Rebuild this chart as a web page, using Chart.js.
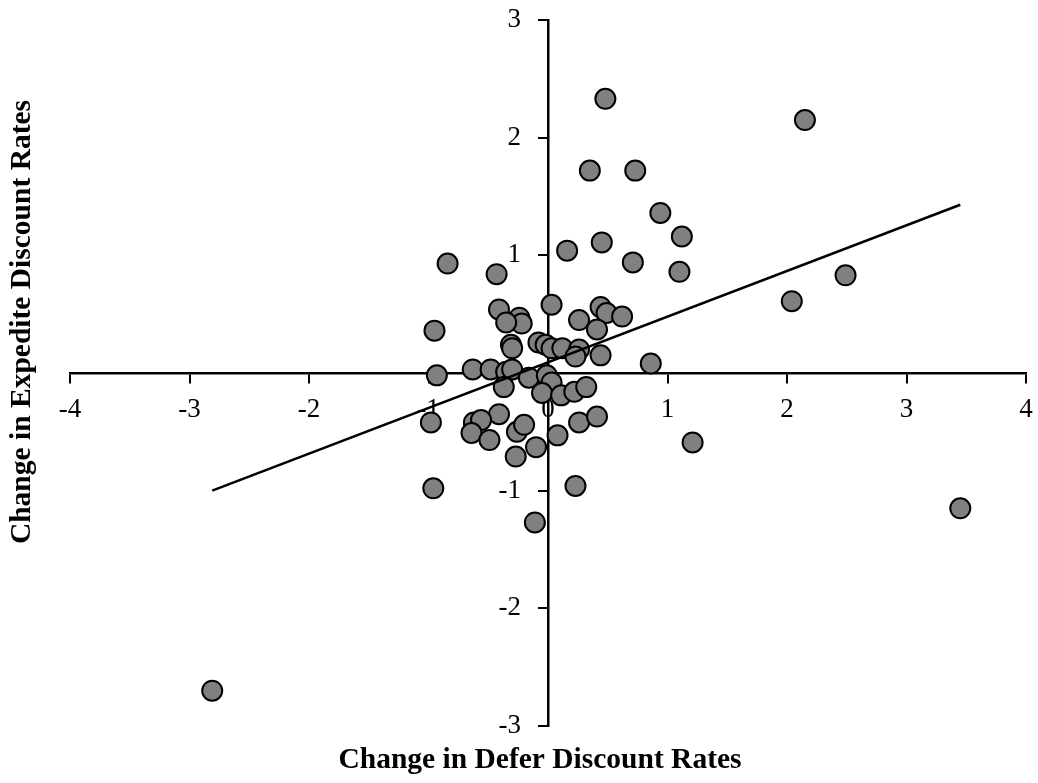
<!DOCTYPE html>
<html>
<head>
<meta charset="utf-8">
<script src="https://cdn.jsdelivr.net/npm/chart.js@4.4.1/dist/chart.umd.min.js"></script>
<style>
  html, body { margin: 0; padding: 0; background: #fff; }
  #wrap { width: 1038px; height: 783px; }
</style>
</head>
<body>
<div id="wrap"><canvas id="scatter"></canvas></div>
<script>
////////////////// Data ///////////////////////

// change in defer discount rates (x)
const deferChange = [
  -2.81, 3.45, 2.15, 2.49, 2.04, 0.48, 0.35, 0.73, 0.94, 1.12, 0.45, 1.10, 0.71,
  0.16, -0.84, -0.43, -0.95, -0.93, -0.98, -0.96, 1.21, 0.86, 0.23, -0.11, 0.03,
  -0.41, -0.24, -0.22, -0.35, -0.31, -0.30, -0.08, -0.02, 0.03, 0.12, 0.26, 0.44,
  0.49, 0.62, 0.41, 0.26, 0.23, 0.44, -0.63, -0.48, -0.35, -0.30, -0.16, -0.01,
  0.03, -0.37, -0.05, 0.11, 0.22, 0.32, -0.41, -0.62, -0.56, -0.64, -0.49, -0.26,
  -0.20, -0.10, -0.27, 0.08, 0.26, 0.41,
];

// change in expedite discount rates (y)
const expediteChange = [
  -2.70, -1.15, 2.15, 0.83, 0.61, 2.33, 1.72, 1.72, 1.36, 1.16, 1.11, 0.86, 0.94,
  1.04, 0.93, 0.84, 0.36, -0.02, -0.42, -0.98, -0.59, 0.08, -0.96, -1.27, 0.58,
  0.54, 0.47, 0.42, 0.43, 0.24, 0.21, 0.26, 0.24, 0.21, 0.21, 0.45, 0.56,
  0.51, 0.48, 0.37, 0.20, 0.14, 0.15, 0.03, 0.03, 0.01, 0.03, -0.04, -0.02,
  -0.08, -0.12, -0.17, -0.19, -0.16, -0.12, -0.35, -0.42, -0.40, -0.51, -0.57, -0.50,
  -0.44, -0.63, -0.71, -0.53, -0.42, -0.37,
];

// linear trend line end points
const trendX = [-2.81, 3.45];
const trendY = [-1.0, 1.43];

const xTitle = "Change in Defer Discount Rates";
const yTitle = "Change in Expedite Discount Rates";

////////////////// Chart ///////////////////////

const serif = "'Liberation Serif', 'Times New Roman', serif";

// draws the two axis titles outside the plot area
const axisTitles = {
  id: "axisTitles",
  afterDraw(chart) {
    const { ctx, chartArea } = chart;
    ctx.save();
    ctx.fillStyle = "#000";
    ctx.font = "bold 29.5px " + serif;
    ctx.textAlign = "center";
    ctx.textBaseline = "middle";
    ctx.fillText(xTitle, 540, chartArea.bottom + 34);
    ctx.translate(22, 322);
    ctx.rotate(-Math.PI / 2);
    ctx.fillText(yTitle, 0, 0);
    ctx.restore();
  },
};

// axes sit at zero, so they should not take room from the plot area
const noRoom = (scale) => {
  if (scale.isHorizontal()) scale.height = 0;
  else scale.width = 0;
  scale.paddingLeft = scale.paddingRight = 0;
  scale.paddingTop = scale.paddingBottom = 0;
};

const axisStyle = {
  type: "linear",
  border: { display: true, color: "#000", width: 2.5 },
  grid: {
    display: true,
    drawOnChartArea: false,
    drawTicks: true,
    tickLength: 9,
    color: "#000",
    lineWidth: 2,
  },
  afterFit: noRoom,
};

const tickFont = { family: serif, size: 27 };

const ctx = document.getElementById("scatter");
const myChart = new Chart(ctx, {
  type: "scatter",
  data: {
    datasets: [
      {
        label: "trend",
        type: "line",
        data: trendX.map((x, i) => ({ x: x, y: trendY[i] })),
        borderColor: "#000",
        borderWidth: 2.5,
        pointRadius: 0,
        fill: false,
        order: 0,
      },
      {
        label: "rates",
        data: deferChange.map((x, i) => ({ x: x, y: expediteChange[i] })),
        backgroundColor: "#808080",
        borderColor: "#000",
        borderWidth: 2,
        pointRadius: 10,
        pointHoverRadius: 10,
        order: 1,
      },
    ],
  },
  options: {
    responsive: true,
    maintainAspectRatio: false,
    animation: false,
    layout: { padding: { left: 70, right: 10, top: 20, bottom: 57 } },
    scales: {
      x: {
        ...axisStyle,
        min: -4,
        max: 4,
        position: { y: 0 },
        ticks: { stepSize: 1, color: "#000", padding: 12, maxRotation: 0, font: tickFont },
      },
      y: {
        ...axisStyle,
        min: -3,
        max: 3,
        position: { x: 0 },
        ticks: {
          stepSize: 1,
          color: "#000",
          font: tickFont,
          // labels are anchored on the axis line, trailing spaces push them left
          callback: (v) => v + "    ",
        },
      },
    },
    plugins: {
      legend: { display: false },
      tooltip: { enabled: false },
    },
  },
  plugins: [axisTitles],
});
</script>
</body>
</html>
